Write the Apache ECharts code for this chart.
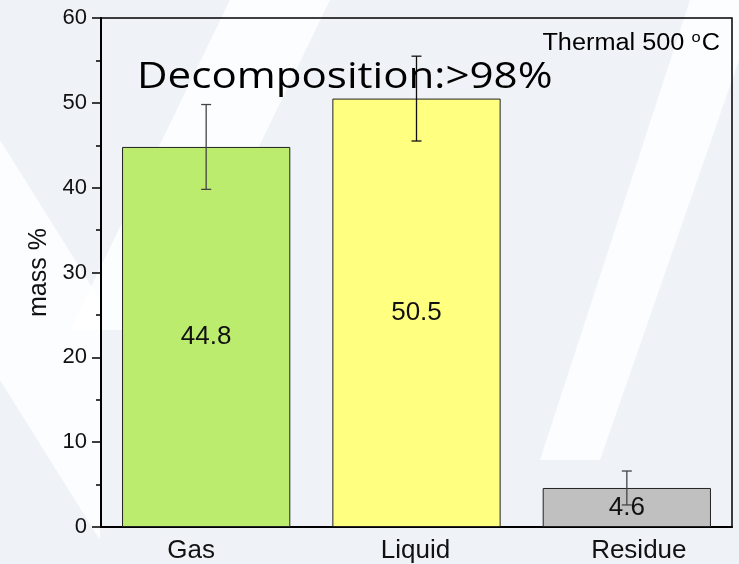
<!DOCTYPE html>
<html>
<head>
<meta charset="utf-8">
<script src="https://cdn.jsdelivr.net/npm/echarts@6/dist/echarts.min.js"></script>
<style>
  html, body { margin: 0; padding: 0; }
  #chart { width: 739px; height: 564px; }
</style>
</head>
<body>
<div id="chart"></div>
<script>
// Product distribution of thermal decomposition at 500 °C
const categories = ['Gas', 'Liquid', 'Residue'];
const massValues = [44.8, 50.5, 4.6];
const massErrors = [5.0, 5.0, 2.0];
const barColors = ['#BCEC6E', '#FFFF80', '#C0C0C0'];
const errorColors = ['#444444', '#111111', '#444444'];
const yMin = 0;
const yMax = 60;
const yStep = 10;

const chart = echarts.init(document.getElementById('chart'), null, { renderer: 'canvas' });

const FONT = '"Liberation Sans", Arial, sans-serif';

// soft diagonal bands in the page background
const bands = [
  [[0, 140], [100, 300], [100, 540], [0, 380]],
  [[230, 0], [330, 0], [170, 330], [70, 330]],
  [[690, 0], [739, 0], [739, 60], [600, 460], [540, 460]]
];

// horizontal nudges of the category captions (left/right padding)
const captionPad = [[0, 30, 0, 0], [0, 2, 0, 0], [0, 0, 0, 24]];

const option = {
  backgroundColor: '#EFF3F8',
  animation: false,
  grid: {
    left: 101, right: 7, top: 18, bottom: 37,
    show: true,
    borderColor: '#000',
    borderWidth: 1.5,
    backgroundColor: 'transparent'
  },
  xAxis: {
    type: 'category',
    data: categories,
    axisLine: { lineStyle: { color: '#000', width: 2 } },
    axisTick: { show: false },
    axisLabel: {
      color: '#111', fontSize: 26, fontFamily: FONT, margin: 11,
      formatter: (val, idx) => `{c${idx}|${val}}`,
      rich: Object.fromEntries(captionPad.map((p, i) => [
        'c' + i, { fontSize: 26, fontFamily: FONT, color: '#111', padding: p }
      ]))
    }
  },
  yAxis: {
    type: 'value',
    min: yMin, max: yMax, interval: yStep,
    name: 'mass %',
    nameLocation: 'middle',
    nameGap: 46,
    nameRotate: 90,
    nameTextStyle: { color: '#111', fontSize: 25, fontFamily: FONT },
    axisLine: { show: true, lineStyle: { color: '#000', width: 2 } },
    axisTick: { show: true, inside: false, length: 9, lineStyle: { color: '#000', width: 1.5 } },
    minorTick: { show: true, splitNumber: 2, length: 5, lineStyle: { color: '#000', width: 1.5 } },
    splitLine: { show: false },
    axisLabel: { color: '#111', fontSize: 22, fontFamily: FONT, margin: 14 }
  },
  graphic: [
    ...bands.map(pts => ({
      type: 'polygon', silent: true, z: -10,
      shape: { points: pts },
      style: { fill: '#FFFFFF', opacity: 0.8 }
    })),
    {
      type: 'text', silent: true, z: 10,
      x: 137, y: 60, scaleX: 1.17,
      style: {
        text: 'Decomposition:>98%',
        font: '36px "Open Sans", sans-serif',
        fill: '#000',
        align: 'left', verticalAlign: 'top'
      }
    },
    {
      type: 'text', silent: true, z: 10,
      x: 720, y: 30, scaleX: 1.1,
      style: {
        text: '{a|Thermal 500 }{s|o}{a|C}',
        align: 'right', verticalAlign: 'top',
        rich: {
          a: { fontSize: 23, fontFamily: FONT, fill: '#000', color: '#000' },
          s: { fontSize: 15, fontFamily: FONT, fill: '#000', color: '#000', padding: [0, 1, 12, 0] }
        }
      }
    }
  ],
  series: [
    {
      type: 'bar',
      barWidth: '80%',
      data: massValues.map((v, i) => ({
        value: v,
        itemStyle: { color: barColors[i] }
      })),
      itemStyle: { borderColor: '#222', borderWidth: 1 },
      label: {
        show: true,
        position: 'inside',
        color: '#111',
        fontSize: 26,
        fontFamily: FONT,
        formatter: p => p.value.toFixed(1)
      },
      z: 2
    },
    {
      type: 'custom',
      z: 5,
      data: massValues.map((v, i) => [i, v, massErrors[i]]),
      renderItem: (params, api) => {
        const i = api.value(0);
        const v = api.value(1);
        const e = api.value(2);
        const top = api.coord([i, v + e]);
        const bot = api.coord([i, v - e]);
        const half = 5;
        const style = { stroke: errorColors[params.dataIndex], lineWidth: 1.3 };
        return {
          type: 'group',
          children: [
            { type: 'line', shape: { x1: top[0], y1: top[1], x2: bot[0], y2: bot[1] }, style },
            { type: 'line', shape: { x1: top[0] - half, y1: top[1], x2: top[0] + half, y2: top[1] }, style },
            { type: 'line', shape: { x1: bot[0] - half, y1: bot[1], x2: bot[0] + half, y2: bot[1] }, style }
          ]
        };
      }
    }
  ]
};

chart.setOption(option);
</script>
</body>
</html>
